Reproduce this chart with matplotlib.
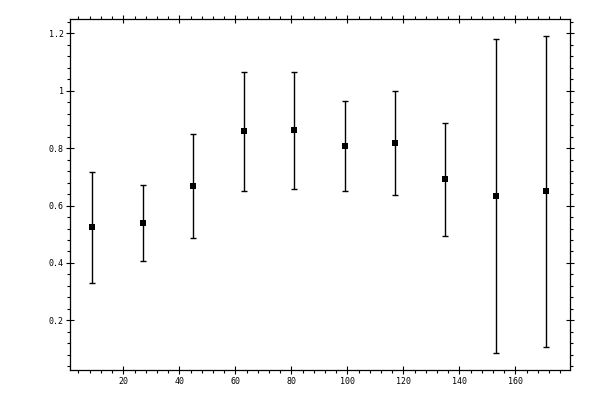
import matplotlib
matplotlib.use("Agg")
import matplotlib.pyplot as plt
from matplotlib.ticker import MultipleLocator, FuncFormatter

x_values = [9, 27, 45, 63, 81, 99, 117, 135, 153, 171]
y_values = [0.524, 0.538, 0.667, 0.859, 0.862, 0.806, 0.817, 0.691, 0.632, 0.649]
y_errors = [0.193, 0.132, 0.181, 0.208, 0.203, 0.157, 0.181, 0.196, 0.547, 0.542]

plt.rcParams['font.family'] = ['DejaVu Sans Mono']

fig = plt.figure(figsize=(6, 4), dpi=100)
ax = fig.add_axes([69.7 / 600, 30 / 400, (570.3 - 69.7) / 600, (370 - 19.3) / 400])

ax.errorbar(x_values, y_values, yerr=y_errors, fmt='none', ecolor='black',
            capsize=2.2, elinewidth=1.0, capthick=1.0)
ax.plot(x_values, y_values, 's', color='black', markersize=5.0,
        markeredgewidth=0, linestyle='none')

ax.set_xlim(0.86, 179.6)
ax.set_ylim(0.027, 1.249)

ax.xaxis.set_major_locator(MultipleLocator(20))
ax.xaxis.set_minor_locator(MultipleLocator(4))
ax.yaxis.set_major_locator(MultipleLocator(0.2))
ax.yaxis.set_minor_locator(MultipleLocator(0.04))
ax.yaxis.set_major_formatter(FuncFormatter(lambda v, p: f"{v:g}"))
ax.xaxis.set_major_formatter(FuncFormatter(lambda v, p: f"{v:g}"))

for s in ax.spines.values():
    s.set_linewidth(0.9)

ax.tick_params(which='major', direction='inout', length=5.5, width=0.8,
               top=True, right=True, labelsize=6)
ax.tick_params(which='minor', direction='out', length=2.3, width=0.8,
               top=True, right=True)
ax.tick_params(axis='y', which='major', pad=1.5)
ax.tick_params(axis='x', which='major', pad=2.5)

fig.savefig("out.png", dpi=100)
